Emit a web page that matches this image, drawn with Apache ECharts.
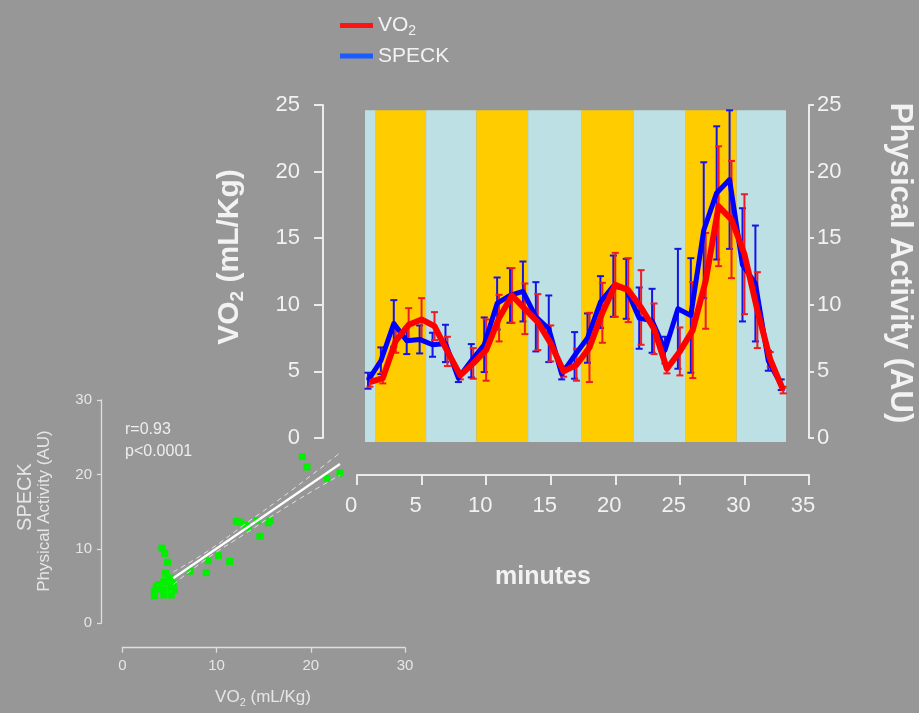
<!DOCTYPE html>
<html><head><meta charset="utf-8">
<script src="https://cdn.jsdelivr.net/npm/echarts@6/dist/echarts.min.js"></script>
<style>html,body{margin:0;padding:0;background:#979797;}#c{width:919px;height:713px;}</style>
</head><body><div id="c"></div>
<script>
// ---------- data ----------
const minutes   = [1,2,3,4,5,6,7,8,9,10,11,12,13,14,15,16,17,18,19,20,21,22,23,24,25,26,27,28,29,30,31,32,33];
const vo2Mean   = [4.2,4.5,7.3,8.5,8.9,8.4,6.5,4.7,5.6,6.6,9.0,10.7,9.7,8.7,7.1,5.0,5.5,6.8,9.4,11.5,11.1,9.8,8.2,5.2,6.5,8.1,11.8,17.4,16.4,13.8,9.6,5.9,3.6];
const vo2Err    = [0.35,0.4,0.9,1.25,1.6,1.05,1.1,0.3,1.15,2.3,1.75,2.05,1.9,2.1,1.35,0.4,1.2,2.6,2.25,2.4,2.4,2.8,1.9,0.35,1.8,3.6,3.6,4.5,4.4,4.5,2.85,0.55,0.25];
const speckMean = [4.3,5.8,8.6,7.3,7.4,7.0,7.1,4.5,5.8,7.0,10.1,10.7,11.0,9.1,8.2,4.8,6.2,7.5,10.2,11.4,11.2,9.0,8.8,6.6,9.7,9.2,15.6,18.4,19.4,13.0,11.6,5.8,4.0];
const speckErr  = [0.6,1.0,1.75,1.0,1.05,0.9,1.4,0.3,1.25,2.05,1.95,2.05,2.25,2.6,2.5,0.4,1.75,1.85,1.95,2.3,2.25,2.3,2.4,1.0,4.5,4.3,5.1,5.0,5.2,4.25,4.35,0.75,0.4];
const bandEdges = [0.62,1.45,5.35,9.25,13.25,17.4,21.4,25.4,29.4,33.22];
const bandKinds = ['rest','exercise','rest','exercise','rest','exercise','rest','exercise','rest'];
const bandYRange = [-0.3, 24.6];
const mainXRange = [0, 35, 5];
const mainYRange = [0, 25, 5];
const insetRange = [0, 30, 10];
const scatterVO2   = [3.4,3.4,3.6,3.8,4.0,4.2,4.5,4.8,4.6,4.4,4.4,4.4,4.9,5.1,5.2,5.2,5.4,5.5,7.2,8.9,9.1,10.2,11.4,12.1,12.5,13.1,13.4,14.3,14.6,15.5,15.7,19.1,19.6,21.7,23.1];
const scatterSpeck = [3.7,4.3,4.9,5.2,4.6,10.1,9.4,8.2,6.7,5.6,4.5,3.8,5.6,6.1,4.7,3.8,5.4,4.5,7.0,6.8,8.4,9.1,8.3,13.7,13.6,13.2,12.9,13.8,11.7,13.5,13.8,22.4,21.0,19.5,20.2];
const regLine = [[5.4,6.05],[23.1,21.4]];
const ciUpper = [[5.4,6.9],[9,9.65],[13,13.3],[18,17.9],[23.1,22.9]];
const ciLower = [[5.4,5.2],[9,8.7],[13,12.0],[18,16.1],[23.1,19.9]];
const statText = ['r=0.93','p<0.0001'];

// ---------- style ----------
const F = '"Liberation Sans", Arial, sans-serif';
const TXT = '#f2f2f2';
const AX = '#ececec';
const IAX = '#dedede';
const speckDodge = -0.15;

const bands = bandKinds.map((kd,i)=>[bandEdges[i], bandEdges[i+1], kd==='exercise'?1:0]);

function errSeries(xs, mean, err, color, name){
  return {
    type:'custom', name, xAxisIndex:0, yAxisIndex:0, clip:false,
    data: xs.map((x,i)=>[x, mean[i]-err[i], mean[i]+err[i]]),
    encode:{x:0, y:[1,2]},
    renderItem:(p,api)=>{
      const x=api.value(0), a=api.coord([x,api.value(2)]), b=api.coord([x,api.value(1)]);
      const hw=3.5, st={stroke:color, lineWidth:2};
      return {type:'group', children:[
        {type:'line', shape:{x1:a[0],y1:a[1],x2:b[0],y2:b[1]}, style:st},
        {type:'line', shape:{x1:a[0]-hw,y1:a[1],x2:a[0]+hw,y2:a[1]}, style:st},
        {type:'line', shape:{x1:b[0]-hw,y1:b[1],x2:b[0]+hw,y2:b[1]}, style:st}
      ]};
    }
  };
}
function mainAxis(extra){
  return Object.assign({type:'value', splitLine:{show:false}}, extra);
}

const chart = echarts.init(document.getElementById('c'));
const option = {
  backgroundColor:'#979797',
  animation:false,
  legend:{
    orient:'vertical', left:340, top:15, padding:0, itemWidth:33, itemHeight:5, itemGap:7, icon:'rect',
    data:[{name:'VO2', itemStyle:{color:'#ff1414'}},{name:'SPECK', itemStyle:{color:'#1a5cff'}}],
    formatter: n => n==='VO2' ? '{a|VO}{s|2}' : '{a|SPECK}',
    textStyle:{color:TXT, rich:{
      a:{fontFamily:F, fontSize:21, color:TXT, lineHeight:26},
      s:{fontFamily:F, fontSize:14, color:TXT, lineHeight:18, padding:[8,0,0,0], verticalAlign:'bottom'}
    }}
  },
  grid:[
    {left:357, right:110, top:105, height:333},
    {left:122.3, width:282.7, top:400, height:223.3}
  ],
  xAxis:[
    mainAxis({gridIndex:0, min:mainXRange[0], max:mainXRange[1], interval:mainXRange[2], position:'bottom', offset:37,
     axisLine:{show:true, onZero:false, lineStyle:{color:AX, width:2}}, axisTick:{show:true, length:10, lineStyle:{color:AX, width:2}},
     axisLabel:{color:TXT, fontFamily:F, fontSize:22, margin:20, padding:[0,12,0,0]}}),
    mainAxis({gridIndex:1, min:insetRange[0], max:insetRange[1], interval:insetRange[2], position:'bottom', offset:24.4,
     axisLine:{show:true, onZero:false, lineStyle:{color:IAX, width:1.3}}, axisTick:{show:true, length:5, lineStyle:{color:IAX, width:1.3}},
     axisLabel:{color:'#e6e6e6', fontFamily:F, fontSize:15, margin:11}})
  ],
  yAxis:[
    mainAxis({gridIndex:0, min:mainYRange[0], max:mainYRange[1], interval:mainYRange[2], position:'left', offset:34,
     axisLine:{show:true, onZero:false, lineStyle:{color:AX, width:2}}, axisTick:{show:true, length:9, lineStyle:{color:AX, width:2}},
     axisLabel:{color:TXT, fontFamily:F, fontSize:22, margin:23, padding:[5,0,0,0]}}),
    mainAxis({gridIndex:0, min:mainYRange[0], max:mainYRange[1], interval:mainYRange[2], position:'right', offset:0,
     axisLine:{show:true, onZero:false, lineStyle:{color:AX, width:2}}, axisTick:{show:true, length:5, lineStyle:{color:AX, width:2}},
     axisLabel:{color:TXT, fontFamily:F, fontSize:22, margin:8, padding:[5,0,0,0]}}),
    mainAxis({gridIndex:1, min:insetRange[0], max:insetRange[1], interval:insetRange[2], position:'left', offset:21.3,
     axisLine:{show:true, onZero:false, lineStyle:{color:IAX, width:1.3}}, axisTick:{show:true, length:4, lineStyle:{color:IAX, width:1.3}},
     axisLabel:{color:'#e6e6e6', fontFamily:F, fontSize:15, margin:9}})
  ],
  series:[
    {type:'custom', xAxisIndex:0, yAxisIndex:0, clip:false, silent:true, data:bands, encode:{x:[0,1]},
     renderItem:(p,api)=>{
       const p0=api.coord([api.value(0), bandYRange[1]]), p1=api.coord([api.value(1), bandYRange[0]]);
       return {type:'rect', shape:{x:p0[0], y:p0[1], width:p1[0]-p0[0], height:p1[1]-p0[1]},
               style:{fill: api.value(2)? '#ffcc00' : '#bce0e3'}};
     }},
    errSeries(minutes.map(m=>m+speckDodge), speckMean, speckErr, '#1515e6', 'SPECK'),
    {type:'line', name:'SPECK', xAxisIndex:0, yAxisIndex:0, showSymbol:false, symbol:'none',
     data:minutes.map((m,i)=>[m+speckDodge, speckMean[i]]), lineStyle:{color:'#0000ff', width:5, join:'round'}, itemStyle:{color:'#0000ff'}},
    errSeries(minutes, vo2Mean, vo2Err, '#ee1c24', 'VO2'),
    {type:'line', name:'VO2', xAxisIndex:0, yAxisIndex:0, showSymbol:false, symbol:'none',
     data:minutes.map((m,i)=>[m, vo2Mean[i]]), lineStyle:{color:'#ff0000', width:6, join:'round'}, itemStyle:{color:'#ff0000'}},
    {type:'scatter', xAxisIndex:1, yAxisIndex:2, symbol:'rect', symbolSize:7,
     data:scatterVO2.map((x,i)=>[x, scatterSpeck[i]]), itemStyle:{color:'#00f000', opacity:1}},
    {type:'line', xAxisIndex:1, yAxisIndex:2, showSymbol:false, symbol:'none', smooth:true, data:ciUpper,
     lineStyle:{color:'#e0e0e0', width:1, type:[5,4]}},
    {type:'line', xAxisIndex:1, yAxisIndex:2, showSymbol:false, symbol:'none', smooth:true, data:ciLower,
     lineStyle:{color:'#e0e0e0', width:1, type:[5,4]}},
    {type:'line', xAxisIndex:1, yAxisIndex:2, showSymbol:false, symbol:'none', data:regLine,
     lineStyle:{color:'#ffffff', width:2.2}}
  ],
  graphic:[
    {type:'text', x:230, y:257, rotation:Math.PI/2,
     style:{text:'{b|VO}{s|2}{b| (mL/Kg)}', align:'center', verticalAlign:'middle', textAlign:'center', textVerticalAlign:'middle',
       rich:{b:{fontFamily:F, fontWeight:'bold', fontSize:30, fill:TXT, color:TXT, lineHeight:34},
             s:{fontFamily:F, fontWeight:'bold', fontSize:19, fill:TXT, color:TXT, lineHeight:22, padding:[12,0,0,0], verticalAlign:'bottom'}}}},
    {type:'text', x:900, y:263, rotation:-Math.PI/2,
     style:{text:'Physical Activity (AU)', font:'bold 31px '+F, fill:TXT, align:'center', verticalAlign:'middle', textAlign:'center', textVerticalAlign:'middle'}},
    {type:'text', x:543, y:577,
     style:{text:'minutes', font:'bold 25px '+F, fill:TXT, align:'center', verticalAlign:'middle', textAlign:'center', textVerticalAlign:'middle'}},
    {type:'text', x:25, y:497, rotation:Math.PI/2,
     style:{text:'SPECK', font:'20px '+F, fill:'#e6e6e6', align:'center', verticalAlign:'middle', textAlign:'center', textVerticalAlign:'middle'}},
    {type:'text', x:44, y:511, rotation:Math.PI/2,
     style:{text:'Physical Activity (AU)', font:'17px '+F, fill:'#e6e6e6', align:'center', verticalAlign:'middle', textAlign:'center', textVerticalAlign:'middle'}},
    {type:'text', x:263, y:697,
     style:{text:'{a|VO}{s|2}{a| (mL/Kg)}', align:'center', verticalAlign:'middle', textAlign:'center', textVerticalAlign:'middle',
       rich:{a:{fontFamily:F, fontSize:17, fill:'#e6e6e6', color:'#e6e6e6', lineHeight:22},
             s:{fontFamily:F, fontSize:11, fill:'#e6e6e6', color:'#e6e6e6', lineHeight:14, padding:[8,0,0,0], verticalAlign:'bottom'}}}},
    {type:'text', x:125, y:430,
     style:{text:statText[0], font:'16px '+F, fill:'#eeeeee', align:'left', verticalAlign:'middle', textAlign:'left', textVerticalAlign:'middle'}},
    {type:'text', x:125, y:452,
     style:{text:statText[1], font:'16px '+F, fill:'#eeeeee', align:'left', verticalAlign:'middle', textAlign:'left', textVerticalAlign:'middle'}}
  ]
};
chart.setOption(option);
</script></body></html>
